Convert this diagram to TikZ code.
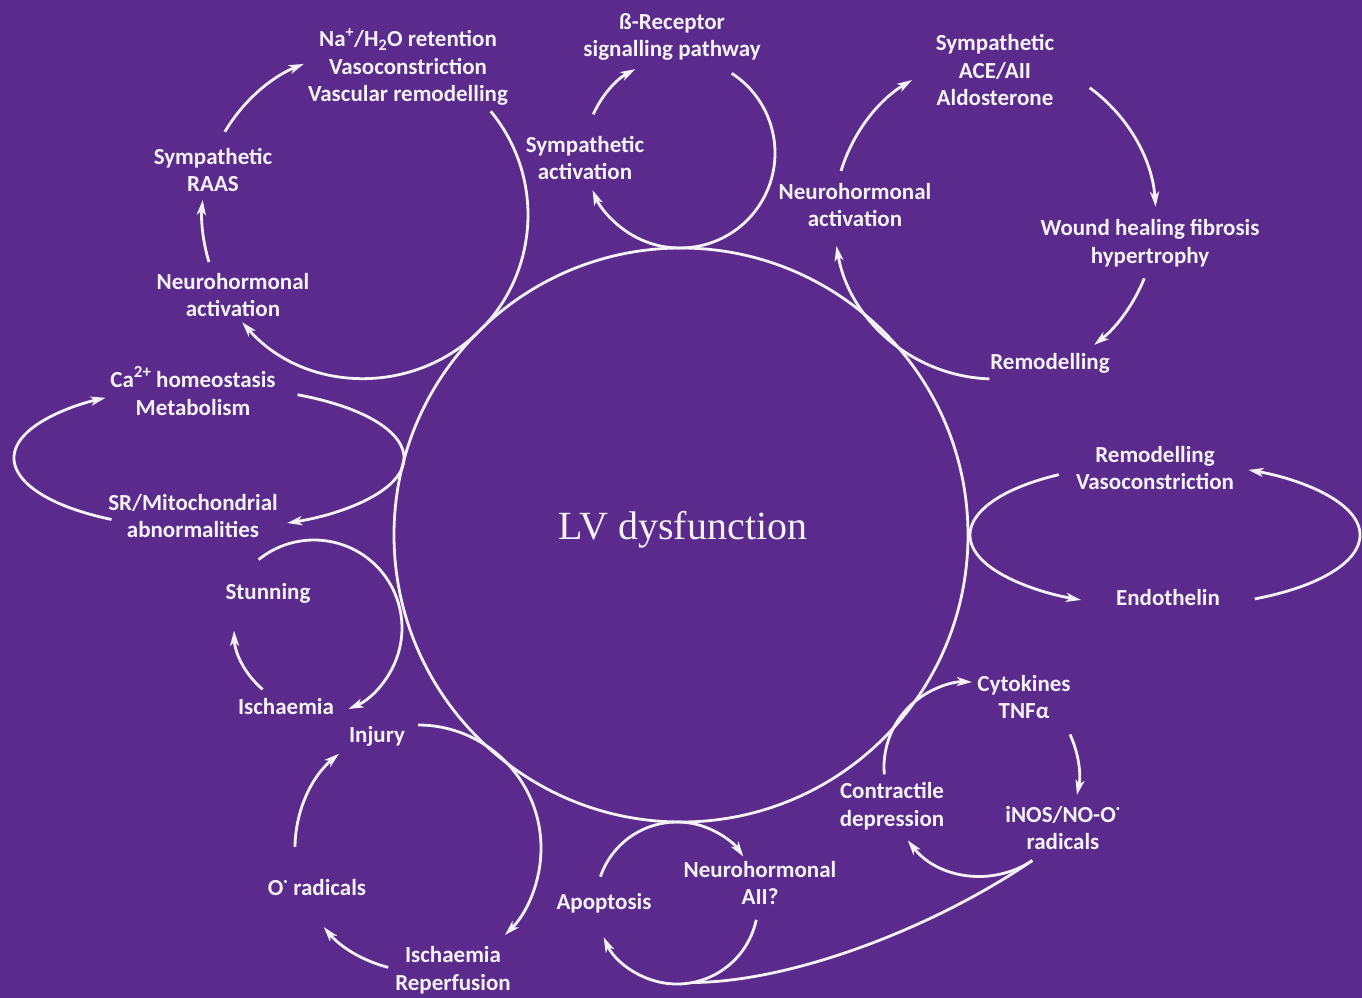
\documentclass[tikz,border=0pt]{standalone}
\usepackage{fontspec}
\setmainfont{Carlito}
\newfontfamily\lvfont{Liberation Serif}
\usetikzlibrary{arrows.meta,calc}
\definecolor{bgpurple}{RGB}{90,42,140}
\definecolor{inkwhite}{RGB}{246,242,250}
\newcommand\cyclearc[5]{\draw[#1] ($(#2)+(#3:#5)$) arc[start angle=#3,end angle=#4,radius=#5];}
\newcommand\ovalarc[6]{\draw[#1] ($(#2)+({#5*cos(#3)},{#6*sin(#3)})$) arc[start angle=#3,end angle=#4,x radius=#5,y radius=#6];}
\newcommand\bigsup[1]{\raisebox{0.42em}{\fontsize{17}{17}\selectfont #1}}
\begin{document}
\begin{tikzpicture}[x=1pt,y=-1pt,
  ln/.style={draw=inkwhite,line width=2.8pt},
  arr/.style={ln,-{Stealth[length=15pt,width=9pt,inset=4pt]}},
  lab/.style={text=inkwhite,align=center,inner sep=0pt,font=\bfseries\fontsize{23}{27.5}\selectfont}]
\fill[bgpurple] (0,0) rectangle (1362,998);
\useasboundingbox (0,0) rectangle (1362,998);

% centres of the cycles
\coordinate (cmain) at (681,535);
\coordinate (c1) at (365,215);
\coordinate (c2) at (680,153);
\coordinate (c3) at (995,218);
\coordinate (c4) at (1165,535);
\coordinate (c5) at (209,458);
\coordinate (c6) at (314,628);
\coordinate (c7) at (418,848);
\coordinate (c8) at (677,903);
\coordinate (c9a) at (969,767);
\coordinate (c9b) at (983,775);
\coordinate (c9c) at (981,783);

% main circle
\draw[ln] (cmain) circle[radius=287];
\node[text=inkwhite,inner sep=0pt,font=\lvfont\fontsize{40}{44}\selectfont] (lv) at (683,530) {LV dysfunction};

% labels
\node[lab] (na) at (408,67) {Na\textsuperscript{+}/H\textsubscript{2}O retention\\Vasoconstriction\\Vascular remodelling};
\node[lab] (raas) at (213,170) {Sympathetic\\RAAS};
\node[lab] (neuroL) at (233,295) {Neurohormonal\\activation};
\node[lab] (beta) at (672,37) {ß-Receptor\\signalling pathway};
\node[lab] (symact) at (585,158) {Sympathetic\\activation};
\node[lab] (ace) at (995,70) {Sympathetic\\ACE/AII\\Aldosterone};
\node[lab] (wound) at (1150,243) {Wound healing fibrosis\\hypertrophy};
\node[lab] (remod) at (1050,363) {Remodelling};
\node[lab] (neuroR) at (855,205) {Neurohormonal\\activation};
\node[lab] (remvaso) at (1155,468) {Remodelling\\Vasoconstriction};
\node[lab] (endo) at (1168,598) {Endothelin};
\node[lab] (ca) at (193,391) {Ca\bigsup{2+} homeostasis\\Metabolism};
\node[lab] (sr) at (193,516) {SR/Mitochondrial\\abnormalities};
\node[lab] (stun) at (268,593) {Stunning};
\node[lab] (isch) at (286,707) {Ischaemia};
\node[lab] (injury) at (377,736) {Injury};
\node[lab] (orad) at (317,888) {O\textsuperscript{·} radicals};
\node[lab] (ischrep) at (453,970) {Ischaemia\\Reperfusion};
\node[lab] (apop) at (604,903) {Apoptosis};
\node[lab] (neuroA) at (760,883) {Neurohormonal\\AII?};
\node[lab] (cyto) at (1024,697) {Cytokines\\TNFα};
\node[lab] (inos) at (1063,828) {iNOS/NO-O\textsuperscript{·}\\radicals};
\node[lab] (contr) at (892,806) {Contractile\\depression};

% top-left cycle
\cyclearc{arr}{c1}{210.7}{248}{163}
\cyclearc{arr}{c1}{-39.5}{138.9}{163}
\cyclearc{arr}{c1}{163.2}{185.3}{163}
% beta-receptor cycle
\cyclearc{arr}{c2}{204}{242}{95}
\cyclearc{arr}{c2}{-57}{157}{95}
% top-right cycle
\cyclearc{arr}{c3}{197}{239}{161}
\cyclearc{arr}{c3}{-54}{-4}{161}
\cyclearc{arr}{c3}{22}{52}{161}
\cyclearc{arr}{c3}{92}{170}{161}
% endothelin cycle
\ovalarc{arr}{c4}{237}{115.5}{195}{72}
\ovalarc{arr}{c4}{62.6}{-64.7}{195}{72}
% calcium cycle
\ovalarc{arr}{c5}{120}{238}{195}{71}
\ovalarc{arr}{c5}{-63}{66.4}{195}{71}
% stunning cycle
\cyclearc{arr}{c6}{-129}{67}{88}
\cyclearc{arr}{c6}{130}{178}{80}
% injury cycle
\cyclearc{arr}{c7}{-90}{45}{123}
\cyclearc{arr}{c7}{104}{140}{123}
\cyclearc{arr}{c7}{180.5}{230}{123}
% apoptosis cycle
\cyclearc{arr}{c8}{199}{325}{81}
\cyclearc{arr}{c8}{12}{155}{81}
% cytokine cycle
\cyclearc{arr}{c9a}{175}{272}{85}
\cyclearc{arr}{c9b}{-25}{12}{96}
\cyclearc{arr}{c9c}{56.5}{142}{93}
% branch from radicals to the apoptosis cycle
\coordinate (inosfoot) at ($(c9c)+(56.5:93)$);
\coordinate (apopfoot) at ($(c8)+(79:81)$);
\draw[ln] (inosfoot) .. controls (930,930) and (790,982) .. (apopfoot);
\end{tikzpicture}
\end{document}
